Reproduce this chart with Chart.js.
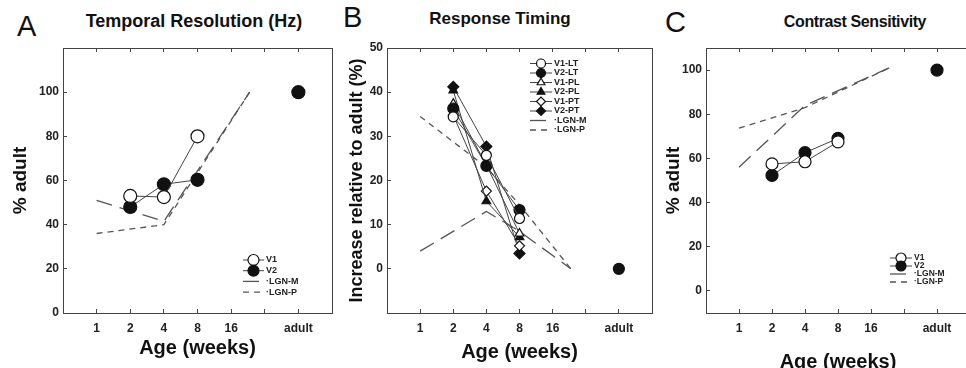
<!DOCTYPE html>
<html>
<head>
<meta charset="utf-8">
<script src="https://cdn.jsdelivr.net/npm/chart.js@4.4.1/dist/chart.umd.min.js"></script>
<style>
  html, body { margin: 0; padding: 0; overflow: hidden; background: #fff; }
  body { position: relative; width: 966px; height: 368px; font-family: Arial, "Liberation Sans", Helvetica, sans-serif; }
  .panel { position: absolute; top: 0; height: 368px; }
  .letter { position: absolute; font-size: 29px; line-height: 29px; color: #111; }
  .title { position: absolute; width: 300px; text-align: center; font-weight: bold; font-size: 17px; line-height: 17px; color: #111; }
</style>
</head>
<body>
<div class="letter" style="left:17px;top:12px">A</div>
<div class="letter" style="left:343px;top:3px">B</div>
<div class="letter" style="left:665px;top:8px">C</div>
<div class="title" style="left:44px;top:13px;font-size:18px">Temporal Resolution (Hz)</div>
<div class="title" style="left:350px;top:10px">Response Timing</div>
<div class="title" style="left:705px;top:13px;font-size:16px;letter-spacing:-0.4px">Contrast Sensitivity</div>

<canvas id="chartA" class="panel" style="left:0px" width="340" height="368"></canvas>
<canvas id="chartB" class="panel" style="left:330px" width="335" height="368"></canvas>
<canvas id="chartC" class="panel" style="left:650px" width="330" height="368"></canvas>

<script>
// age axis is log2 spaced: 1 wk -> 0, 2 -> 1, 4 -> 2, 8 -> 3, 16 -> 4, adult drawn at 6
const agePos = [0, 1, 2, 3, 4, 6];
const ageTicks = [0, 1, 2, 3, 4, 5, 6];
const ageTickLabels = ['1', '2', '4', '8', '16', '', 'adult'];

// A - temporal resolution (% adult)
const tempV1 = [null, 53, 52.5, 80, null, null];
const tempV2 = [null, 48, 58.3, 60.3, null, 100];
const tempLgnPos = [0, 2, 4.55];
const tempLgnM = [51, 41.5, 100];
const tempLgnP = [36, 40, 100];
const tempYTicks = [0, 20, 40, 60, 80, 100];

// B - response timing (increase relative to adult, %)
const timeV1LT = [null, 34.4, 25.7, 11.4, null, null];
const timeV2LT = [null, 36.3, 23.3, 13.3, null, 0];
const timeV1PL = [null, 37.4, 23.5, 8.0, null, null];
const timeV2PL = [null, 40.4, 15.3, 7.2, null, null];
const timeV1PT = [null, 34.8, 17.6, 5.2, null, null];
const timeV2PT = [null, 41.2, 27.7, 3.5, null, null];
const timeLgnPos = [0, 2, 3, 4.55];
const timeLgnM = [4, 13, 8.5, 0];
const timeLgnP = [34.5, 23, 14.5, 0];
const timeYTicks = [0, 10, 20, 30, 40, 50];

// C - contrast sensitivity (% adult)
const contV1 = [null, 57.5, 58.5, 67.5, null, null];
const contV2 = [null, 52.3, 62.6, 69.1, null, 100];
const contLgnPos = [0, 2, 4.55];
const contLgnM = [56, 84, 101];
const contLgnP = [73.7, 83, 101];
const contYTicks = [0, 20, 40, 60, 80, 100];

const FONT = 'Arial, "Liberation Sans", Helvetica, sans-serif';
Chart.defaults.font.family = FONT;
Chart.defaults.color = '#111';

const axisColor = '#444';
const lineColor = '#444';
const lgnColor = '#555';

const toPoints = (xs, ys) => xs.map((x, i) => ({ x: x, y: ys[i] }));

function dataSeries(label, values, pointStyle, filled, radius) {
    return {
        label: label,
        data: toPoints(agePos, values),
        borderColor: lineColor,
        borderWidth: 1,
        pointStyle: pointStyle,
        pointRadius: radius,
        pointBackgroundColor: filled ? '#111' : '#fff',
        pointBorderColor: '#111',
        pointBorderWidth: 1.2,
        tension: 0,
        spanGaps: false
    };
}

function lgnSeries(label, xs, values, dash) {
    return {
        label: label,
        data: toPoints(xs, values),
        borderColor: lgnColor,
        borderWidth: 1.3,
        borderDash: dash,
        pointRadius: 0,
        tension: 0
    };
}

// legend drawn inside the plot box, line + marker + text like the figure
const insetLegend = {
    id: 'insetLegend',
    afterDatasetsDraw(chart, args, opts) {
        const ctx = chart.ctx;
        ctx.save();
        ctx.font = 'bold ' + opts.fontSize + 'px ' + FONT;
        ctx.textBaseline = 'middle';
        chart.data.datasets.forEach((ds, i) => {
            const y = opts.y + i * opts.step;
            ctx.beginPath();
            ctx.setLineDash(ds.borderDash || []);
            ctx.strokeStyle = ds.borderColor;
            ctx.lineWidth = ds.borderWidth;
            ctx.moveTo(opts.x, y);
            ctx.lineTo(opts.x + opts.lineLen, y);
            ctx.stroke();
            ctx.setLineDash([]);
            if (ds.pointRadius > 0) {
                ctx.fillStyle = ds.pointBackgroundColor;
                ctx.strokeStyle = ds.pointBorderColor;
                ctx.lineWidth = ds.pointBorderWidth;
                Chart.helpers.drawPoint(ctx, {
                    pointStyle: ds.pointStyle,
                    radius: opts.radius,
                    rotation: 0,
                    borderWidth: ds.pointBorderWidth
                }, opts.x + opts.lineLen / 2, y);
            }
            ctx.fillStyle = '#222';
            ctx.fillText(ds.pointRadius > 0 ? ds.label : '\u00b7' + ds.label,
                opts.x + opts.lineLen + 2, y);
        });
        ctx.restore();
    }
};

function ageAxis(position, titlePad) {
    const bottom = position === 'bottom';
    return {
        type: 'linear',
        axis: 'x',
        position: position,
        min: -1,
        max: 7,
        afterBuildTicks: s => { s.ticks = ageTicks.map(v => ({ value: v })); },
        afterFit: s => { s.height = bottom ? 55 : 0; },
        grid: { drawOnChartArea: false, tickLength: -4, color: axisColor },
        border: { color: axisColor, width: 1 },
        ticks: {
            display: bottom,
            autoSkip: false,
            maxRotation: 0,
            padding: 12,
            color: '#222',
            font: { size: 12, weight: 'bold' },
            callback: v => ageTickLabels[v]
        },
        title: {
            display: bottom,
            text: 'Age (weeks)',
            color: '#111',
            font: { size: 20, weight: 'bold' },
            padding: { top: 0, bottom: titlePad }
        }
    };
}

function valueAxis(position, min, max, tickValues, width, title) {
    const left = position === 'left';
    return {
        type: 'linear',
        axis: 'y',
        position: position,
        min: min,
        max: max,
        afterBuildTicks: s => { s.ticks = tickValues.map(v => ({ value: v })); },
        afterFit: s => { s.width = left ? width : 0; },
        grid: { drawOnChartArea: false, tickLength: -4, color: axisColor },
        border: { color: axisColor, width: 1 },
        ticks: {
            display: left,
            padding: 8,
            color: '#222',
            font: { size: 12, weight: 'bold' }
        },
        title: left ? {
            display: true,
            text: title.text,
            color: '#111',
            font: { size: title.size, weight: 'bold' },
            padding: { top: title.pad, bottom: 0 }
        } : { display: false }
    };
}

function makePanel(id, datasets, yAxis, xTitlePad, padRight, legend) {
    new Chart(document.getElementById(id), {
        type: 'line',
        data: { datasets: datasets },
        options: {
            responsive: false,
            animation: false,
            layout: { padding: { top: 48, bottom: 0, left: 0, right: padRight } },
            plugins: {
                legend: { display: false },
                tooltip: { enabled: false },
                insetLegend: legend
            },
            scales: {
                x: ageAxis('bottom', xTitlePad),
                x2: ageAxis('top', 0),
                y: yAxis,
                y2: valueAxis('right', yAxis.min, yAxis.max, [], 0, null)
            }
        },
        plugins: [insetLegend]
    });
}

// Panel A
makePanel('chartA', [
    dataSeries('V1', tempV1, 'circle', false, 6.5),
    dataSeries('V2', tempV2, 'circle', true, 6.5),
    lgnSeries('LGN-M', tempLgnPos, tempLgnM, [16, 8]),
    lgnSeries('LGN-P', tempLgnPos, tempLgnP, [6, 5])
], valueAxis('left', 0, 120, tempYTicks, 63, { text: '% adult', size: 19, pad: 9 }),
   8, 8, { x: 243, y: 260, step: 10.7, lineLen: 21, radius: 5.5, fontSize: 9 });

// Panel B
makePanel('chartB', [
    dataSeries('V1-LT', timeV1LT, 'circle', false, 5),
    dataSeries('V2-LT', timeV2LT, 'circle', true, 5.5),
    dataSeries('V1-PL', timeV1PL, 'triangle', false, 5),
    dataSeries('V2-PL', timeV2PL, 'triangle', true, 5),
    dataSeries('V1-PT', timeV1PT, 'rectRot', false, 5),
    dataSeries('V2-PT', timeV2PT, 'rectRot', true, 5.5),
    lgnSeries('LGN-M', timeLgnPos, timeLgnM, [16, 8]),
    lgnSeries('LGN-P', timeLgnPos, timeLgnP, [6, 5])
], valueAxis('left', -10, 50, timeYTicks, 57, { text: 'Increase relative to adult (%)', size: 18, pad: 16 }),
   4, 13, { x: 200, y: 63.5, step: 9.5, lineLen: 22, radius: 4.5, fontSize: 9 });

// Panel C
makePanel('chartC', [
    dataSeries('V1', contV1, 'circle', false, 6),
    dataSeries('V2', contV2, 'circle', true, 6),
    lgnSeries('LGN-M', contLgnPos, contLgnM, [16, 8]),
    lgnSeries('LGN-P', contLgnPos, contLgnP, [6, 5])
], valueAxis('left', -10, 110, contYTicks, 56, { text: '% adult', size: 19, pad: 12 }),
   -6, 10, { x: 240, y: 258, step: 8, lineLen: 22, radius: 5, fontSize: 8.5 });
</script>
</body>
</html>
